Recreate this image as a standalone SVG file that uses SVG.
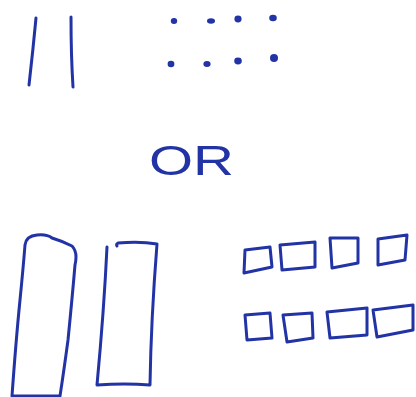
<svg xmlns="http://www.w3.org/2000/svg" width="416" height="397" viewBox="0 0 416 397">
<style>
.ink{fill:none;stroke:#2233a6;stroke-width:3;stroke-linecap:round;stroke-linejoin:round}
.dot{fill:#2233a6}
.txt{font-family:"Liberation Sans",Arial,sans-serif;font-size:42px;fill:#2233a6}
</style>
<rect width="416" height="397" fill="#ffffff"/>
<g id="lines">
<path class="ink" d="M36 18 Q33 50 29 85"/>
<path class="ink" d="M71 17 Q71 55 73 87"/>
</g>
<g id="dots">
<ellipse class="dot" cx="174" cy="21" rx="3.2" ry="3"/>
<ellipse class="dot" cx="211" cy="21" rx="4" ry="2.8"/>
<ellipse class="dot" cx="238" cy="19" rx="3.6" ry="3.4"/>
<ellipse class="dot" cx="273" cy="18" rx="3.8" ry="3.2"/>
<ellipse class="dot" cx="171" cy="64" rx="3.4" ry="3.2"/>
<ellipse class="dot" cx="207" cy="64" rx="3.6" ry="3"/>
<ellipse class="dot" cx="238" cy="61" rx="3.8" ry="3.4"/>
<ellipse class="dot" cx="274" cy="58" rx="4" ry="4"/>
</g>
<g id="or">
<text class="txt" x="149" y="175" textLength="85" lengthAdjust="spacingAndGlyphs">OR</text>
</g>
<g id="tall-rects">
<path class="ink" d="M25 245 Q26 236 37 235 Q47 234 52 238 Q62 241 72 246 Q78 252 75 265 Q72 300 68 340 Q64 370 60 396 L12 396 Q16 340 20 300 Q23 270 25 245 Z"/>
<path class="ink" d="M107 247 Q104 310 97 385 Q125 383 150 385 Q151 320 157 244 Q140 241 118 243 Q116 244 117 246"/>
</g>
<g id="small-rects">
<path class="ink" d="M245 250 L270 247 L272 267 L244 273 Z"/>
<path class="ink" d="M280 245 L315 242 L315 267 L282 270 Z"/>
<path class="ink" d="M330 238 L358 238 L358 263 L332 268 Z"/>
<path class="ink" d="M378 239 L407 235 L405 260 L378 265 Z"/>
<path class="ink" d="M245 315 L270 313 L272 338 L247 340 Z"/>
<path class="ink" d="M283 315 L312 313 L313 338 L287 342 Z"/>
<path class="ink" d="M327 312 L367 308 L367 335 L330 338 Z"/>
<path class="ink" d="M373 310 L413 305 L413 330 L377 337 Z"/>
</g>
</svg>
